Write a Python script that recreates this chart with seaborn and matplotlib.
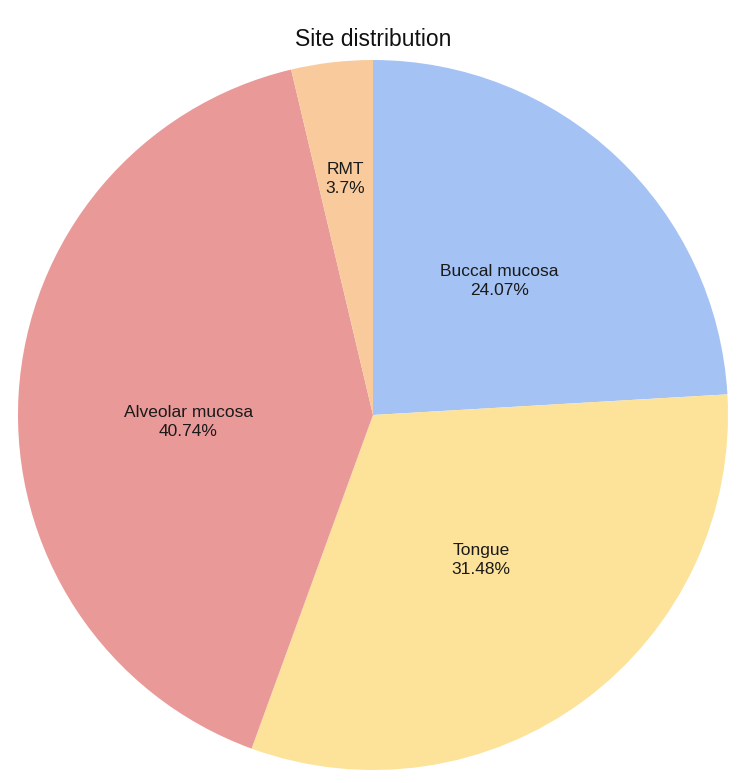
import numpy as np
import matplotlib.pyplot as plt
import seaborn as sns

# Site counts (percentages shown on the chart: 24.07, 31.48, 40.74, 3.7)
sites = ["Buccal mucosa", "Tongue", "Alveolar mucosa", "RMT"]
counts = [13, 17, 22, 2]
colors = ["#a4c2f4", "#fde29a", "#ea9999", "#f9cb9c"]
label_dist = [0.52, 0.51, 0.52, 0.67]
label_shift = [0, 0, 5.5, 0]  # degrees, nudges text off the exact mid-angle

sns.set_theme(style="white")
plt.rcParams["font.family"] = ["Liberation Sans", "DejaVu Sans"]

fig = plt.figure(figsize=(7.5, 7.83), dpi=100)
W, H = 750, 783
cx, cy, r = 373, 415, 355
ax = fig.add_axes([(cx - r) / W, (H - cy - r) / H, 2 * r / W, 2 * r / H])

wedges, _ = ax.pie(
    counts,
    colors=colors,
    startangle=90,
    counterclock=False,
    radius=1.0,
    wedgeprops={"linewidth": 0},
)
ax.set_xlim(-1, 1)
ax.set_ylim(-1, 1)
ax.set_aspect("equal")

total = sum(counts)
for w, name, n, d, s in zip(wedges, sites, counts, label_dist, label_shift):
    mid = np.deg2rad((w.theta1 + w.theta2) / 2 + s)
    pct = round(100 * n / total, 2)
    ax.text(d * np.cos(mid), d * np.sin(mid), f"{name}\n{pct:g}%",
            ha="center", va="center", fontsize=12.5, color="#1a1a1a",
            linespacing=1.3)

fig.text(cx / W, 1 - 40 / H, "Site distribution", ha="center", va="center",
         fontsize=16.5, color="#111111")

fig.savefig("out.png", dpi=100)
